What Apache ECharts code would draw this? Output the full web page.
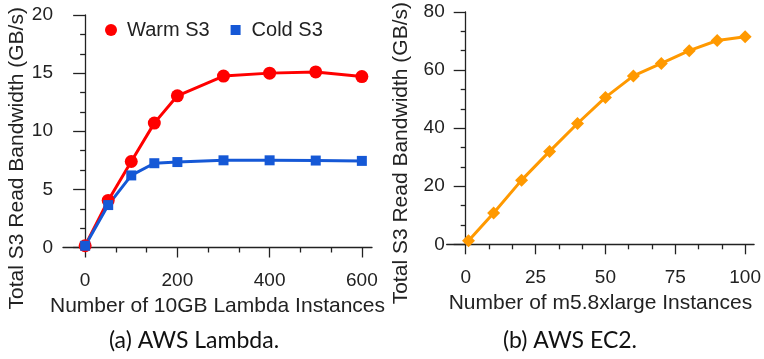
<!DOCTYPE html>
<html>
<head>
<meta charset="utf-8">
<script src="https://cdn.jsdelivr.net/npm/echarts@6/dist/echarts.min.js"></script>
<style>
  html, body { margin: 0; padding: 0; background: #fff; }
  #chart { width: 764px; height: 359px; }
</style>
</head>
<body>
<div id="chart"></div>
<script>
// (a) Lambda
const lambdaX = [0, 50, 100, 150, 200, 300, 400, 500, 600];
const warmS3 = [0.15, 4.05, 7.4, 10.7, 13.05, 14.75, 15.0, 15.1, 14.7];
const coldS3 = [0.15, 3.65, 6.2, 7.25, 7.35, 7.5, 7.5, 7.48, 7.45];
const lambdaTicks = [0, 200, 400, 600];

// (b) EC2
const ec2X = [1, 10, 20, 30, 40, 50, 60, 70, 80, 90, 100];
const ec2Bw = [1.2, 10.8, 22.1, 32.0, 41.6, 50.6, 58.0, 62.3, 66.7, 70.2, 71.5];
const ec2Ticks = [0, 25, 50, 75, 100];

const yName = 'Total S3 Read Bandwidth (GB/s)';
const captions = ['(a) AWS Lambda.', '(b) AWS EC2.'];

const font = 'Liberation Sans, Arial, sans-serif';
const ink = '#222';

// two minor ticks between each pair of labelled ticks
function minorOf(ticks) {
  const out = [];
  for (let i = 0; i < ticks.length - 1; i++) {
    const step = (ticks[i + 1] - ticks[i]) / 3;
    out.push(ticks[i] + step, ticks[i] + 2 * step);
  }
  return out;
}

const pairs = (xs, ys) => xs.map((x, i) => [x, ys[i]]);

function xAxes(grid, min, max, ticks, name, nameGap) {
  const base = {
    type: 'value', gridIndex: grid, min, max, position: 'bottom',
    splitLine: { show: false },
    axisLine: { lineStyle: { color: ink, width: 1.3 } }
  };
  return [
    Object.assign({}, base, {
      name, nameLocation: 'middle', nameGap,
      nameTextStyle: { fontFamily: font, fontSize: 21, color: ink },
      axisTick: { length: 10, customValues: ticks, lineStyle: { color: ink, width: 1.3 } },
      axisLabel: { customValues: ticks, margin: 24, fontFamily: font, fontSize: 19, color: ink }
    }),
    Object.assign({}, base, {
      axisLine: { show: false },
      axisTick: { length: 5, customValues: minorOf(ticks), lineStyle: { color: ink, width: 1.3 } },
      axisLabel: { show: false }
    })
  ];
}

function yAxis(grid, max, interval, margin, shift) {
  return {
    type: 'value', gridIndex: grid, min: 0, max, interval, offset: -12,
    name: yName, nameLocation: 'middle', nameGap: 46.5,
    nameTextStyle: { fontFamily: font, fontSize: 21, color: ink, padding: [0, shift, 0, 0] },
    splitLine: { show: false },
    axisLine: { show: true, lineStyle: { color: ink, width: 1.3 } },
    axisTick: { show: true, length: 12, lineStyle: { color: ink, width: 1.3 } },
    minorTick: { show: true, splitNumber: 3, length: 5, lineStyle: { color: ink, width: 1.3 } },
    axisLabel: { margin, fontFamily: font, fontSize: 19, color: ink }
  };
}

const captionStyle = { fontFamily: 'Lato', fontWeight: 'normal', fontSize: 23, color: '#111' };

const chart = echarts.init(document.getElementById('chart'));
chart.setOption({
  animation: false,
  title: [
    { text: captions[0], left: 189, top: 336, textAlign: 'center', textVerticalAlign: 'middle', textStyle: captionStyle },
    { text: captions[1], left: 565, top: 336, textAlign: 'center', textVerticalAlign: 'middle', textStyle: captionStyle }
  ],
  legend: {
    left: 105, top: 20, padding: 0, itemGap: 20, itemWidth: 12, itemHeight: 12,
    textStyle: { fontFamily: font, fontSize: 20, color: ink, padding: [0, 0, 0, 5] },
    data: [
      { name: 'Warm S3', icon: 'circle' },
      { name: 'Cold S3', icon: 'path://M0,0M12,12M1,1h10v10h-10z' }
    ]
  },
  grid: [
    { left: 63, top: 15, width: 309, height: 232.5 },
    { left: 446.7, top: 8.3, width: 311, height: 236 }
  ],
  xAxis: [
    ...xAxes(0, -48, 622, lambdaTicks, 'Number of 10GB Lambda Instances', 45),
    ...xAxes(1, -6.8, 103.2, ec2Ticks, 'Number of m5.8xlarge Instances', 48)
  ],
  yAxis: [yAxis(0, 20, 5, 22, 54), yAxis(1, 80, 20, 14, 50)],
  series: [
    { name: 'Warm S3', type: 'line', xAxisIndex: 0, yAxisIndex: 0, data: pairs(lambdaX, warmS3),
      symbol: 'circle', symbolSize: 13, color: '#ff0000', lineStyle: { width: 3 } },
    { name: 'Cold S3', type: 'line', xAxisIndex: 0, yAxisIndex: 0, data: pairs(lambdaX, coldS3),
      symbol: 'rect', symbolSize: 10, color: '#1558d6', lineStyle: { width: 3 } },
    { name: 'EC2', type: 'line', xAxisIndex: 2, yAxisIndex: 1, data: pairs(ec2X, ec2Bw),
      symbol: 'diamond', symbolSize: 13, color: '#ff9900', lineStyle: { width: 3 } }
  ]
});
</script>
</body>
</html>
